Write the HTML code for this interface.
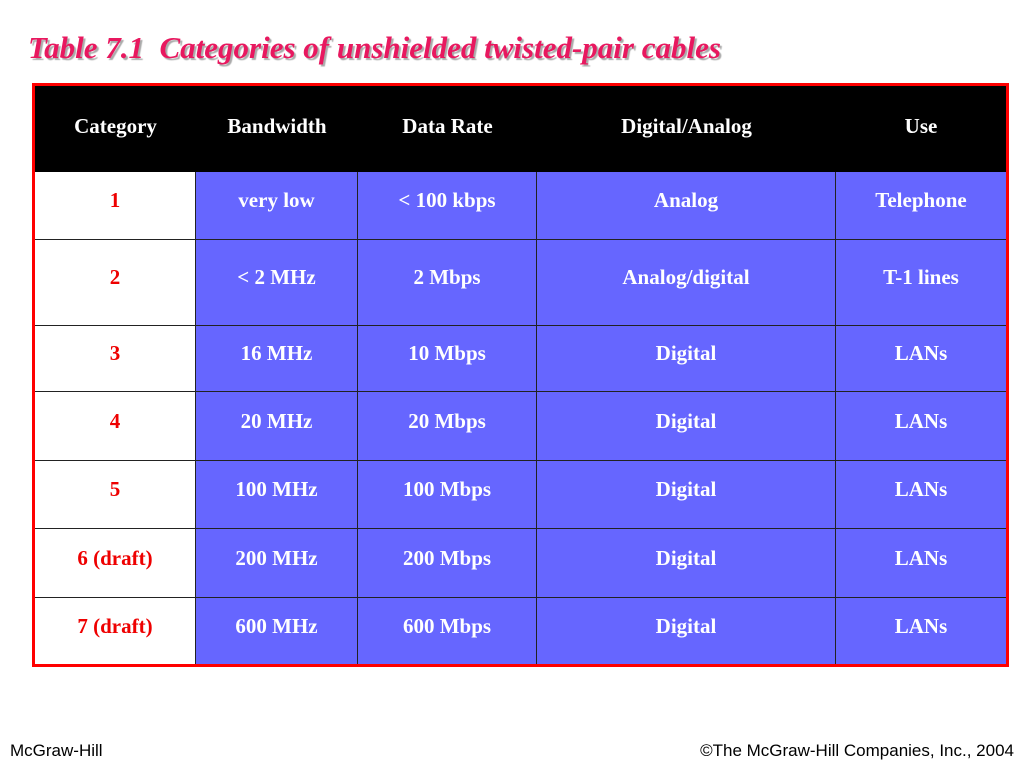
<!DOCTYPE html>
<html><head><meta charset="utf-8"><style>
body{margin:0;width:1024px;height:768px;background:#fff;position:relative;overflow:hidden;font-family:"Liberation Serif",serif}
.title{position:absolute;left:28px;top:30px;font-size:31px;font-weight:bold;font-style:italic;color:#e8185f;text-shadow:2px 2px 1px #aaa;white-space:pre}
.frame{position:absolute;left:32px;top:83px;width:971px;height:578px;border:3px solid #f00}
.c{position:absolute;display:flex;align-items:center;justify-content:center;font-size:21px;font-weight:bold;box-sizing:border-box}
.foot{position:absolute;top:741px;font-family:"Liberation Sans",sans-serif;font-size:17px;color:#000}
</style></head><body>
<div class="title">Table 7.1  Categories of unshielded twisted-pair cables</div>
<div class="frame"></div>
<div id="t"></div>
<div class="foot" style="left:10px">McGraw-Hill</div>
<div class="foot" style="right:10px">©The McGraw-Hill Companies, Inc., 2004</div>
<script>
const headers=["Category","Bandwidth","Data Rate","Digital/Analog","Use"];
const categories=["1","2","3","4","5","6 (draft)","7 (draft)"];
const bandwidths=["very low","< 2 MHz","16 MHz","20 MHz","100 MHz","200 MHz","600 MHz"];
const dataRates=["< 100 kbps","2 Mbps","10 Mbps","20 Mbps","100 Mbps","200 Mbps","600 Mbps"];
const modes=["Analog","Analog/digital","Digital","Digital","Digital","Digital","Digital"];
const uses=["Telephone","T-1 lines","LANs","LANs","LANs","LANs","LANs"];
const colX=[35,196,358,537,836,1006];
const rowY=[86,172,240,326,392,461,529,598,664];
const t=document.getElementById('t');
function cell(x0,x1,y0,y1,txt,bg,fg,border){
 const d=document.createElement('div');d.className='c';
 d.style.left=x0+'px';d.style.top=y0+'px';d.style.width=(x1-x0)+'px';d.style.height=(y1-y0)+'px';
 d.style.background=bg;d.style.color=fg;
 if(border){d.style.borderRight='1.5px solid #222';d.style.borderBottom='1.5px solid #222';}
 d.textContent=txt;t.appendChild(d);return d;}
const hd=cell(colX[0],colX[5],rowY[0],rowY[1],'','#000','#fff',false);


headers.forEach((h,i)=>{const d=cell(colX[i],colX[i+1],rowY[0],rowY[1]-5,h,'transparent','#fff',false);
 
 });
const cols=[categories,bandwidths,dataRates,modes,uses];
for(let r=0;r<categories.length;r++){for(let c=0;c<5;c++){
 const last=r==categories.length-1;
 const d=cell(colX[c],colX[c+1],rowY[r+1],rowY[r+2],cols[c][r],c==0?'#fff':'#6666ff',c==0?'#e00':'#fff',true);
 d.style.paddingBottom='10px';
 if(c==4)d.style.borderRight='none';
 if(last)d.style.borderBottom='none';
 
 }}
</script>
</body></html>
